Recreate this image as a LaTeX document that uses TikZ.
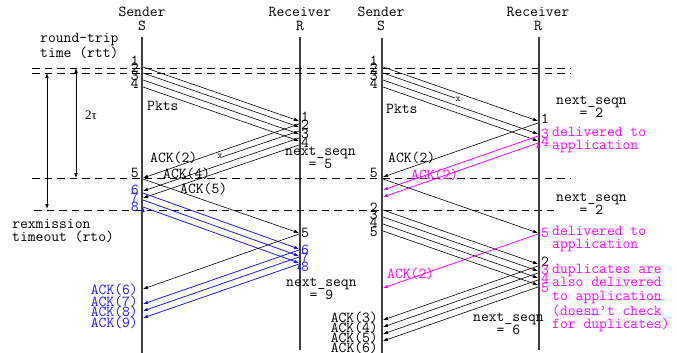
\documentclass[tikz,border=0pt]{standalone}
\usepackage{fontspec}
\newfontfamily\tms{Liberation Serif}
\usetikzlibrary{arrows.meta,positioning}
\definecolor{rexblue}{RGB}{25,25,255}
\definecolor{dupmag}{RGB}{255,0,255}

\begin{document}
\begin{tikzpicture}[
        x=1pt, y=-1pt,
        >={Latex[length=5pt,width=3.6pt]},
        txt/.style={font=\ttfamily\fontsize{15.2}{13.3}\selectfont, inner sep=0pt, align=left},
        lost/.style={font=\ttfamily\fontsize{10}{10}\selectfont, inner sep=0pt},
        lifeline/.style={draw=black!75, line width=1.1pt},
        msg/.style={->, line width=0.6pt},
        bmsg/.style={->, line width=0.8pt, draw=rexblue},
        mmsg/.style={->, line width=0.8pt, draw=dupmag},
        timeline/.style={dash pattern=on 7.5pt off 5pt, line width=0.8pt},
    ]
    \useasboundingbox (0,0) rectangle (677,353);

    % left: go-back-N with a lost ack
    \node[txt, align=center] (senderA) at (142,19) {Sender\\S};
    \node[txt, align=center] (receiverA) at (300,19) {Receiver\\R};
    \coordinate (sAtop) at (142,37);  \coordinate (sAbot) at (142,353);
    \coordinate (rAtop) at (300,37);  \coordinate (rAbot) at (300,350);
    \draw[lifeline] (sAtop) -- (sAbot);
    \draw[lifeline] (rAtop) -- (rAbot);

    \node[txt, anchor=west] (rtt) at (40,46) {round-trip\\time (rtt)};
    \node[txt, anchor=west] (rto) at (12,231) {rexmission\\timeout (rto)};

    \coordinate (d1a) at (32,68);  \coordinate (d1b) at (570,68);
    \coordinate (d2a) at (32,73);  \coordinate (d2b) at (570,73);
    \coordinate (d3a) at (32,178); \coordinate (d3b) at (570,178);
    \coordinate (d4a) at (34,210); \coordinate (d4b) at (558,210);
    \draw[timeline] (d1a) -- (d1b);
    \draw[timeline] (d2a) -- (d2b);
    \draw[timeline] (d3a) -- (d3b);
    \draw[timeline] (d4a) -- (d4b);

    \coordinate (rtoTop) at (47,73);  \coordinate (rtoBot) at (47,209);
    \coordinate (rttTop) at (76,68);  \coordinate (rttBot) at (76,178);
    \draw[<->, line width=0.6pt] (rtoTop) -- (rtoBot);
    \draw[<->, line width=0.6pt] (rttTop) -- (rttBot);
    \node[font=\tms\fontsize{13}{13}\selectfont, inner sep=0pt] (tau) at (91,115) {2τ};

    \node[txt, anchor=east] (sa1) at (139,61) {1};
    \node[txt, anchor=east] (sa2) at (139,68) {2};
    \node[txt, anchor=east] (sa3) at (139,76) {3};
    \node[txt, anchor=east] (sa4) at (139,84) {4};
    \node[txt, anchor=west] (pktsA) at (147,106) {Pkts};
    \node[txt, anchor=west] (ra1) at (301,117) {1};
    \node[txt, anchor=west] (ra2) at (301,125) {2};
    \node[txt, anchor=west] (ra3) at (301,134) {3};
    \node[txt, anchor=west] (ra4) at (301,143) {4};

    \coordinate (pa1s) at (143,67);  \coordinate (pa1r) at (299,121);
    \coordinate (pa2s) at (143,73);  \coordinate (pa2r) at (299,127);
    \coordinate (pa3s) at (143,80);  \coordinate (pa3r) at (299,134);
    \coordinate (pa4s) at (143,87);  \coordinate (pa4r) at (299,141);
    \path[msg] (pa1s) edge (pa1r) (pa2s) edge (pa2r)
               (pa3s) edge (pa3r) (pa4s) edge (pa4r);

    \coordinate (ka2r) at (299,124); \coordinate (ka2s) at (143,178);
    \coordinate (ka3r) at (299,131); \coordinate (ka3x) at (222,157);
    \coordinate (ka4r) at (299,138); \coordinate (ka4s) at (143,191);
    \coordinate (ka5r) at (299,145); \coordinate (ka5s) at (143,198);
    \path[msg] (ka2r) edge (ka2s) (ka4r) edge (ka4s) (ka5r) edge (ka5s);
    \draw[line width=0.6pt] (ka3r) -- (ka3x);
    \node[lost] (lostA) at (220,156) {x};
    \node[txt, anchor=west] (ackA2) at (150,158) {ACK(2)};
    \node[txt, anchor=west] (ackA4) at (163,174) {ACK(4)};
    \node[txt, anchor=west] (ackA5) at (180,189) {ACK(5)};
    \node[txt, anchor=west] (nsA5) at (285,158) {next\_seqn\\\phantom{nex}= 5};

    \node[txt, anchor=east] (sa5) at (139,173) {5};
    \coordinate (pa5s) at (143,179); \coordinate (pa5r) at (299,233);
    \draw[msg] (pa5s) -- (pa5r);
    \node[txt, anchor=west] (ra5) at (301,233) {5};

    \node[txt, anchor=east, text=rexblue] (sa6) at (139,190) {6};
    \node[txt, anchor=east, text=rexblue] (sa7) at (139,198) {7};
    \node[txt, anchor=east, text=rexblue] (sa8) at (139,207) {8};
    \coordinate (pa6s) at (143,193); \coordinate (pa6r) at (299,249);
    \coordinate (pa7s) at (143,200); \coordinate (pa7r) at (299,256);
    \coordinate (pa8s) at (143,207); \coordinate (pa8r) at (299,263);
    \path[bmsg] (pa6s) edge (pa6r) (pa7s) edge (pa7r) (pa8s) edge (pa8r);
    \node[txt, anchor=west, text=rexblue] (ra6) at (301,250) {6};
    \node[txt, anchor=west, text=rexblue] (ra7) at (301,258) {7};
    \node[txt, anchor=west, text=rexblue] (ra8) at (301,267) {8};

    \coordinate (ka6r) at (299,234); \coordinate (ka6s) at (143,289);
    \draw[msg] (ka6r) -- (ka6s);
    \coordinate (ka7r) at (299,250); \coordinate (ka7s) at (143,304);
    \coordinate (ka8r) at (299,257); \coordinate (ka8s) at (143,311);
    \coordinate (ka9r) at (299,264); \coordinate (ka9s) at (143,318);
    \path[bmsg] (ka7r) edge (ka7s) (ka8r) edge (ka8s) (ka9r) edge (ka9s);
    \node[txt, anchor=east, text=rexblue] (ackA6) at (138,290) {ACK(6)};
    \node[txt, anchor=east, text=rexblue] (ackA7) at (138,302) {ACK(7)};
    \node[txt, anchor=east, text=rexblue] (ackA8) at (138,312) {ACK(8)};
    \node[txt, anchor=east, text=rexblue] (ackA9) at (138,323) {ACK(9)};
    \node[txt, anchor=west] (nsA9) at (286,289) {next\_seqn\\\phantom{nex}= 9};

    % right: lost packet, receiver does not buffer
    \node[txt, align=center] (senderB) at (381,19) {Sender\\S};
    \node[txt, align=center] (receiverB) at (538,19) {Receiver\\R};
    \coordinate (sBtop) at (382,38);  \coordinate (sBbot) at (382,353);
    \coordinate (rBtop) at (539,37);  \coordinate (rBbot) at (539,350);
    \draw[lifeline] (sBtop) -- (sBbot);
    \draw[lifeline] (rBtop) -- (rBbot);

    \node[txt, anchor=east] (sb1) at (378,61) {1};
    \node[txt, anchor=east] (sb2) at (378,68) {2};
    \node[txt, anchor=east] (sb3) at (378,76) {3};
    \node[txt, anchor=east] (sb4) at (378,84) {4};
    \node[txt, anchor=west] (pktsB) at (386,109) {Pkts};

    \coordinate (pb1s) at (383,67);  \coordinate (pb1r) at (538,121);
    \coordinate (pb2s) at (383,73);  \coordinate (pb2x) at (455,98);
    \coordinate (pb3s) at (383,80);  \coordinate (pb3r) at (538,134);
    \coordinate (pb4s) at (383,87);  \coordinate (pb4r) at (538,141);
    \path[msg] (pb1s) edge (pb1r) (pb3s) edge (pb3r) (pb4s) edge (pb4r);
    \draw[line width=0.6pt] (pb2s) -- (pb2x);
    \node[lost] (lostB) at (458,99) {x};

    \node[txt, anchor=west] (rb1) at (541,119) {1};
    \node[txt, anchor=west, text=dupmag] (rb3) at (541,134) {3};
    \node[txt, anchor=west, text=dupmag] (rb4) at (541,142) {4};
    \node[txt, anchor=west] (nsB2) at (556,107) {next\_seqn\\\phantom{nex}= 2};
    \node[txt, anchor=west, text=dupmag] (delivB1) at (552,140) {delivered to\\application};

    \coordinate (kb2r) at (538,123); \coordinate (kb2s) at (383,177);
    \draw[msg] (kb2r) -- (kb2s);
    \node[txt, anchor=west] (ackB2) at (388,158) {ACK(2)};
    \coordinate (mb1r) at (538,136); \coordinate (mb1s) at (383,190);
    \coordinate (mb2r) at (538,143); \coordinate (mb2s) at (383,197);
    \path[mmsg] (mb1r) edge (mb1s) (mb2r) edge (mb2s);
    \node[txt, anchor=west, text=dupmag] (ackB2m) at (411,175) {ACK(2)};

    \node[txt, anchor=east] (sb5) at (378,173) {5};
    \coordinate (pb5s) at (383,179); \coordinate (pb5r) at (538,233);
    \draw[msg] (pb5s) -- (pb5r);
    \node[txt, anchor=west, text=dupmag] (rb5) at (541,233) {5};
    \node[txt, anchor=west, text=dupmag] (delivB2) at (552,239) {delivered to\\application};
    \node[txt, anchor=west] (nsB2b) at (556,204) {next\_seqn\\\phantom{nex}= 2};

    \coordinate (mb3r) at (538,234); \coordinate (mb3s) at (383,288);
    \draw[mmsg] (mb3r) -- (mb3s);
    \node[txt, anchor=west, text=dupmag] (ackB2n) at (387,274) {ACK(2)};

    \node[txt, anchor=east] (sc2) at (378,208) {2};
    \node[txt, anchor=east] (sc3) at (378,215) {3};
    \node[txt, anchor=east] (sc4) at (378,223) {4};
    \node[txt, anchor=east] (sc5) at (378,232) {5};
    \coordinate (pc2s) at (383,210); \coordinate (pc2r) at (538,264);
    \coordinate (pc3s) at (383,217); \coordinate (pc3r) at (538,271);
    \coordinate (pc4s) at (383,224); \coordinate (pc4r) at (538,278);
    \coordinate (pc5s) at (383,231); \coordinate (pc5r) at (538,285);
    \path[msg] (pc2s) edge (pc2r) (pc3s) edge (pc3r)
               (pc4s) edge (pc4r) (pc5s) edge (pc5r);
    \node[txt, anchor=west] (rc2) at (541,262) {2};
    \node[txt, anchor=west, text=dupmag] (rc3) at (541,270) {3};
    \node[txt, anchor=west, text=dupmag] (rc4) at (541,279) {4};
    \node[txt, anchor=west, text=dupmag] (rc5) at (541,288) {5};
    \node[txt, anchor=west, text=dupmag] (dupB) at (552,298)
        {duplicates are\\also delivered\\to application\\(doesn’t check\\for duplicates)};

    \coordinate (kc3r) at (538,266); \coordinate (kc3s) at (383,320);
    \coordinate (kc4r) at (538,273); \coordinate (kc4s) at (383,327);
    \coordinate (kc5r) at (538,280); \coordinate (kc5s) at (383,334);
    \coordinate (kc6r) at (538,287); \coordinate (kc6s) at (383,341);
    \path[msg] (kc3r) edge (kc3s) (kc4r) edge (kc4s)
               (kc5r) edge (kc5s) (kc6r) edge (kc6s);
    \node[txt, anchor=east] (ackC3) at (378,318) {ACK(3)};
    \node[txt, anchor=east] (ackC4) at (378,328) {ACK(4)};
    \node[txt, anchor=east] (ackC5) at (378,338) {ACK(5)};
    \node[txt, anchor=east] (ackC6) at (378,348) {ACK(6)};
    \node[txt, anchor=west] (nsC6) at (473,324) {next\_seqn\\\phantom{nex}= 6};
\end{tikzpicture}
\end{document}
